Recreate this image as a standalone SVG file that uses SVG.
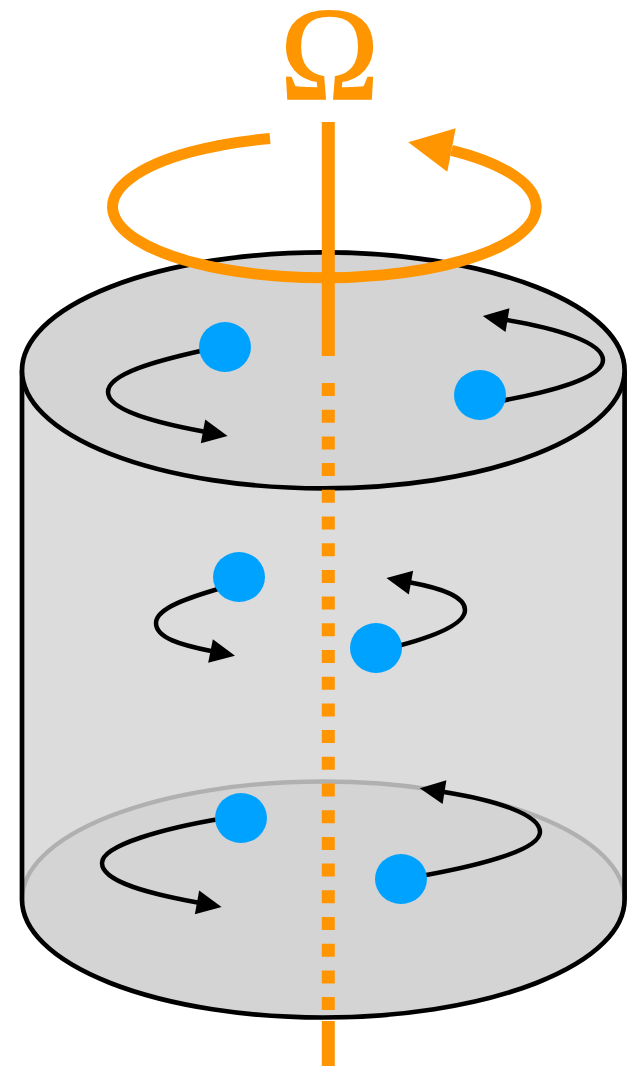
<svg xmlns="http://www.w3.org/2000/svg" width="627" height="1071" viewBox="0 0 627 1071">
  <style>
    .swirl { fill: none; stroke: #000; stroke-width: 4.5; marker-end: url(#head); }
    .dot { fill: #00a2ff; }
    .axis { stroke: #ff9500; stroke-width: 13; fill: none; }
    .label { font-family: "Liberation Serif", "Times New Roman", serif; font-size: 134px; fill: #ff9500; stroke: #ff9500; stroke-width: 1.5; text-anchor: middle; }
  </style>
  <defs>
    <marker id="head" markerUnits="userSpaceOnUse" markerWidth="26" markerHeight="24" refX="0.5" refY="12" orient="auto" overflow="visible">
      <path d="M0,0 L25,12 L0,24 Z" fill="#000"/>
    </marker>
  </defs>

  <!-- cylinder -->
  <g id="cylinder">
    <path d="M22,370.4 L22,899.5 A301.3,118 0 0,0 624.6,899.5 L624.6,370.4 Z" fill="#dcdcdc"/>
    <ellipse cx="323.3" cy="899.5" rx="301.3" ry="118" fill="#d4d4d4"/>
    <path d="M22,899.5 A301.3,118 0 0,1 624.6,899.5" fill="none" stroke="#b0b0b0" stroke-width="4.3"/>
    <path d="M22,370.4 L22,899.5 A301.3,118 0 0,0 624.6,899.5 L624.6,370.4" fill="none" stroke="#000" stroke-width="4.7"/>
    <ellipse cx="323.3" cy="370.4" rx="301.3" ry="118" fill="#d4d4d4" stroke="#000" stroke-width="4.7"/>
  </g>

  <!-- rotation axis -->
  <g id="axis">
    <line class="axis" x1="328.3" y1="383" x2="328.3" y2="1012" stroke-dasharray="13 13.7"/>
    <line class="axis" x1="328.3" y1="1021" x2="328.3" y2="1066"/>
    <line class="axis" x1="328.3" y1="122" x2="328.3" y2="356"/>
  </g>

  <!-- rotation arrow and label -->
  <g id="rotation">
    <path d="M270,138.5 A211.8,70.8 0 1,0 451.5,150.3" fill="none" stroke="#ff9500" stroke-width="11"/>
    <path d="M408.3,142.3 L455.7,128.3 L447.3,171.7 Z" fill="#ff9500"/>
    <text class="label" x="329.5" y="99">Ω</text>
  </g>

  <!-- local vortices -->
  <g id="connectors">
    <path class="swirl" d="M205,350 C155,361 108,374 108,392 C108,410 155,422.5 203.5,431.5"/>
    <path class="swirl" d="M500,401 C550,392 603,378 603,360 C603,342 555,328 507,320"/>
    <path class="swirl" d="M225,587 C190,597 156,608 156,623 C156,638 181,645 211,651"/>
    <path class="swirl" d="M390,648 C430,638 465,625 465,610 C465,596 440,588 410.5,582.5"/>
    <path class="swirl" d="M225,818 C165,828 102,845 102,863 C102,882 150,893.8 197.5,902.5"/>
    <path class="swirl" d="M410,878 C480,866 540,850 540,832 C540,814 494,800 444,792"/>
  </g>

  <g id="particle-top-left"><ellipse class="dot" cx="225" cy="347" rx="26" ry="25"/></g>
  <g id="particle-top-right"><ellipse class="dot" cx="480" cy="395" rx="26" ry="25"/></g>
  <g id="particle-mid-left"><ellipse class="dot" cx="239" cy="577" rx="26" ry="25"/></g>
  <g id="particle-mid-right"><ellipse class="dot" cx="376" cy="648" rx="26" ry="25"/></g>
  <g id="particle-bottom-left"><ellipse class="dot" cx="241" cy="818" rx="26" ry="25"/></g>
  <g id="particle-bottom-right"><ellipse class="dot" cx="401" cy="879" rx="26" ry="25"/></g>
</svg>
